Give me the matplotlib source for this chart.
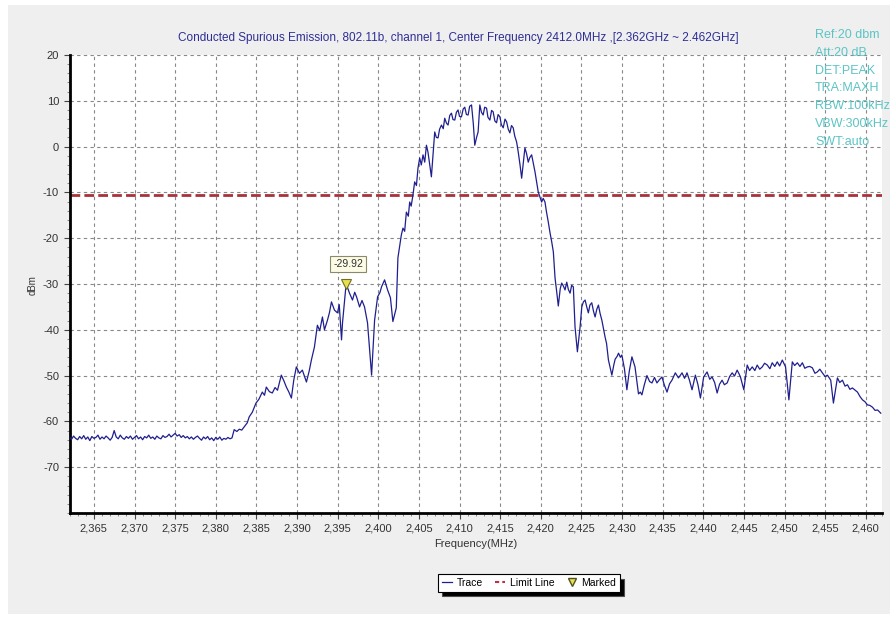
#Conducted spurious emission plot (802.11b, channel 1)
import numpy as np
import matplotlib
matplotlib.use("Agg")
import matplotlib.pyplot as plt
from matplotlib.lines import Line2D
from matplotlib.patches import Rectangle

plt.rcParams['font.family'] = ['Liberation Sans', 'DejaVu Sans']
plt.rcParams['axes.unicode_minus'] = False

# noise floor, 2362.00 .. 2382.00 MHz every 0.25 MHz
floor_freq = np.arange(2362.0, 2382.01, 0.25)
floor_level = [
    -63.5, -63.9, -63.2, -63.7, -64.0, -63.3, -63.8, -63.1, -63.9, -63.4,
    -64.2, -63.3, -63.7, -63.5, -63.0, -63.9, -63.4, -63.8, -63.2, -63.6,
    -64.1, -63.5, -62.0, -63.4, -63.8, -63.0, -63.6, -63.9, -63.3, -63.7,
    -63.2, -63.9, -63.5, -63.1, -63.8, -63.4, -64.0, -63.3, -63.6, -63.0,
    -63.7, -63.4, -63.9, -63.2, -63.6, -63.8, -63.1, -63.5, -63.3, -62.8,
    -63.4, -63.0, -62.6, -63.2, -62.9, -63.5, -63.1, -63.6, -63.3, -63.8,
    -63.4, -63.9, -63.5, -63.2, -63.7, -64.1, -63.4, -63.8, -63.3, -64.0,
    -63.6, -64.2, -63.5, -63.9, -63.4, -64.1, -63.7, -63.9, -63.5, -63.8,
    -63.6,
]

# rest of the sweep (MHz, dBm)
trace_freq = [
    2382.27, 2382.6, 2382.9, 2383.2, 2383.5, 2383.88, 2384.12, 2384.5, 2384.95, 2385.3,
    2385.73, 2386.0, 2386.22, 2386.6, 2386.96, 2387.3, 2387.6, 2388.07, 2388.4, 2388.69,
    2389.0, 2389.31, 2389.6, 2389.92, 2390.3, 2390.66, 2391.16, 2391.5, 2391.77, 2392.14,
    2392.51, 2392.8, 2393.13, 2393.38, 2393.75, 2394.0, 2394.24, 2394.61, 2394.98, 2395.2,
    2395.48, 2395.6, 2396.05, 2396.46, 2396.83, 2397.1, 2397.33, 2397.7, 2398.0, 2398.31,
    2398.68, 2399.18, 2399.55, 2399.92, 2400.2, 2400.41, 2400.78, 2401.15, 2401.5, 2401.8,
    2402.22, 2402.42, 2402.84, 2403.04, 2403.25, 2403.46, 2403.7, 2403.87, 2404.05, 2404.27,
    2404.48, 2404.7, 2404.89, 2405.1, 2405.3, 2405.51, 2405.72, 2405.93, 2406.12, 2406.54,
    2406.95, 2407.15, 2407.36, 2407.55, 2407.78, 2408.0, 2408.18, 2408.4, 2408.59, 2408.8,
    2409.01, 2409.2, 2409.42, 2409.62, 2409.82, 2410.0, 2410.24, 2410.45, 2410.65, 2410.85,
    2411.06, 2411.25, 2411.48, 2411.7, 2411.88, 2412.1, 2412.29, 2412.5, 2412.7, 2412.91,
    2413.1, 2413.33, 2413.5, 2413.74, 2413.95, 2414.14, 2414.35, 2414.56, 2414.75, 2414.97,
    2415.15, 2415.38, 2415.6, 2415.8, 2416.0, 2416.2, 2416.4, 2416.61, 2416.8, 2417.03,
    2417.23, 2417.45, 2417.65, 2417.85, 2418.05, 2418.25, 2418.46, 2418.65, 2418.88, 2419.1,
    2419.29, 2419.5, 2419.69, 2419.9, 2420.11, 2420.3, 2420.52, 2420.7, 2420.93, 2421.15,
    2421.35, 2421.55, 2421.76, 2421.95, 2422.16, 2422.4, 2422.58, 2422.8, 2422.99, 2423.2,
    2423.4, 2423.61, 2423.8, 2424.01, 2424.22, 2424.51, 2424.84, 2425.05, 2425.25, 2425.46,
    2425.66, 2425.86, 2426.05, 2426.28, 2426.5, 2426.69, 2426.9, 2427.1, 2427.3, 2427.52,
    2427.92, 2428.1, 2428.33, 2428.75, 2429.0, 2429.16, 2429.4, 2429.57, 2429.8, 2429.98,
    2430.3, 2430.6, 2430.9, 2431.22, 2431.6, 2432.03, 2432.25, 2432.45, 2432.75, 2433.07,
    2433.4, 2433.69, 2434.0, 2434.3, 2434.6, 2434.92, 2435.2, 2435.54, 2435.85, 2436.15,
    2436.56, 2436.95, 2437.39, 2437.7, 2438.0, 2438.3, 2438.62, 2439.03, 2439.35, 2439.65,
    2440.05, 2440.47, 2440.8, 2441.09, 2441.4, 2441.71, 2442.0, 2442.32, 2442.6, 2442.94,
    2443.25, 2443.56, 2443.85, 2444.17, 2444.4, 2444.58, 2444.99, 2445.41, 2445.7, 2446.03,
    2446.35, 2446.64, 2446.95, 2447.26, 2447.55, 2447.88, 2448.2, 2448.49, 2448.8, 2449.11,
    2449.4, 2449.73, 2450.13, 2450.54, 2450.96, 2451.25, 2451.58, 2451.9, 2452.2, 2452.5,
    2452.81, 2453.1, 2453.43, 2453.75, 2454.04, 2454.35, 2454.66, 2455.0, 2455.28, 2455.69,
    2456.02, 2456.51, 2456.8, 2457.13, 2457.45, 2457.75, 2458.05, 2458.36, 2458.7, 2458.98,
    2459.3, 2459.6, 2459.9, 2460.21, 2460.5, 2460.83, 2461.15, 2461.45, 2461.85,
]
trace_level = [
    -61.8, -62.2, -61.7, -61.9, -61.2, -60.3, -59.0, -58.0, -56.0, -55.2,
    -53.6, -54.3, -52.5, -53.5, -53.8, -52.6, -53.2, -49.9, -51.2, -52.5,
    -53.6, -54.9, -51.0, -48.1, -49.5, -48.8, -51.4, -49.0, -46.6, -43.8,
    -39.0, -40.2, -37.2, -40.0, -37.9, -36.2, -33.9, -35.7, -36.3, -34.5,
    -42.2, -38.5, -29.92, -32.0, -33.5, -31.8, -32.8, -35.0, -33.6, -35.0,
    -38.5, -49.9, -37.9, -32.8, -31.9, -30.6, -29.1, -31.3, -33.0, -38.2,
    -35.2, -24.3, -19.3, -17.8, -18.5, -14.3, -15.2, -12.1, -13.0, -10.6,
    -7.7, -8.5, -4.7, -2.5, -4.0, -1.8, -3.4, 0.3, -1.2, -6.6,
    3.2, 2.0, 1.9, 3.8, 4.7, 3.9, 6.2, 5.1, 4.7, 6.8,
    7.3, 5.9, 5.8, 7.5, 8.0, 6.6, 6.5, 8.2, 8.6, 7.0,
    6.9, 8.8, 9.1, 5.0, 0.3, 2.0, 3.2, 9.1, 7.5, 6.9,
    8.6, 8.4, 6.4, 5.8, 7.9, 7.6, 5.6, 5.2, 7.0, 6.5,
    4.8, 4.1, 6.0, 5.4, 3.8, 3.0, 4.6, 4.1, 2.3, 1.0,
    -1.2, -4.0, -6.9, -3.5, -0.3, -1.5, -3.4, -2.4, -1.8, -3.8,
    -5.5, -7.8, -9.9, -11.0, -12.1, -11.3, -12.1, -14.2, -16.5, -18.9,
    -20.8, -23.0, -28.7, -31.5, -34.8, -31.0, -29.8, -30.5, -31.3, -29.6,
    -31.2, -32.0, -30.3, -30.6, -39.4, -44.8, -39.4, -35.0, -33.9, -33.5,
    -35.0, -36.3, -34.6, -34.1, -36.0, -37.2, -35.5, -34.6, -36.4, -37.9,
    -41.6, -43.0, -46.6, -49.9, -47.6, -46.4, -45.8, -45.1, -46.0, -45.5,
    -48.5, -53.1, -49.0, -45.9, -48.1, -54.0, -53.6, -54.2, -52.0, -50.0,
    -51.3, -51.6, -50.4, -51.6, -50.9, -50.3, -52.0, -53.6, -51.8, -51.0,
    -49.4, -50.5, -49.4, -50.6, -49.4, -51.0, -53.1, -49.9, -52.0, -54.9,
    -50.3, -49.2, -50.8, -50.3, -51.5, -53.8, -51.9, -51.0, -52.0, -51.6,
    -50.2, -49.4, -50.1, -48.8, -49.6, -50.3, -53.1, -47.7, -48.9, -48.1,
    -48.9, -47.7, -48.6, -48.1, -47.3, -47.7, -48.5, -47.2, -48.0, -47.0,
    -47.9, -46.6, -48.1, -55.3, -47.0, -47.8, -47.2, -48.0, -47.2, -48.4,
    -48.1, -48.0, -48.3, -49.5, -49.2, -48.6, -49.4, -50.2, -49.9, -51.0,
    -56.0, -50.5, -51.5, -51.0, -52.3, -52.0, -53.0, -52.7, -53.2, -53.6,
    -54.6, -55.3, -55.7, -56.4, -56.5, -56.9, -57.6, -57.5, -58.2,
]

limit_dbm = -10.6
marker_freq = 2396.05
marker_dbm = -29.92
x_ticks = list(range(2365, 2461, 5))
y_ticks = list(range(-70, 21, 10))
settings = ["Ref:20 dbm", "Att:20 dB", "DET:PEAK", "TRA:MAXH",
            "RBW:100kHz", "VBW:300kHz", "SWT:auto"]

W, H = 896, 617
fig = plt.figure(figsize=(W / 100, H / 100), dpi=100)
fig.patch.set_facecolor('white')
# gray panel behind everything
fig.patches.append(Rectangle((8 / W, 1 - 614 / H), 882 / W, 609 / H,
                             transform=fig.transFigure, fc='#efefef', ec='none', zorder=-10))

ax = fig.add_axes([69.5 / W, 1 - 513 / H, 812.5 / W, 458 / H])
ax.set_facecolor('white')

freq = np.concatenate([floor_freq, trace_freq])
level = np.concatenate([floor_level, trace_level])
trace_line, = ax.plot(freq, level, color='#1f1f8f', lw=0.9, zorder=3)
limit_line = ax.axhline(limit_dbm, color='#a8323a', lw=2, ls=(0, (3.5, 1.5)), zorder=2)
mark, = ax.plot([marker_freq], [marker_dbm], marker='v', ms=7, mfc='#e8e050',
                mec='#707020', mew=0.8, ls='none', zorder=4)
ax.annotate('%.2f' % marker_dbm, (marker_freq, marker_dbm), xytext=(2, 20),
            textcoords='offset pixels', ha='center', va='center', fontsize=7.5,
            color='#333333',
            bbox=dict(boxstyle='square,pad=0.3', fc='#fbfbe6', ec='#8a8a6a', lw=0.8))

ax.set_xlim(2362, 2462)
ax.set_ylim(-80, 20)
ax.set_xticks(x_ticks)
ax.set_xticklabels([('%.3f' % (v / 1000)).replace('.', ',') for v in x_ticks])
ax.set_xticks(np.arange(2362, 2463, 1), minor=True)
ax.set_yticks(y_ticks)
ax.set_yticks(np.arange(-80, 21, 2), minor=True)
ax.tick_params(axis='both', which='major', labelsize=8, labelcolor='#333333',
               length=4, color='#444444')
ax.tick_params(axis='both', which='minor', length=2, color='#777777')
ax.grid(True, which='major', color='#888888', ls=(0, (3, 3)), lw=0.8)
for s in ['top', 'right']:
    ax.spines[s].set_visible(False)
for s in ['left', 'bottom']:
    ax.spines[s].set_linewidth(2)
    ax.spines[s].set_color('black')

ax.set_xlabel('Frequency(MHz)', fontsize=8, color='#333333', labelpad=4)
fig.text(33 / W, 1 - 285 / H, 'dBm', rotation=90, ha='center', va='center',
         fontsize=7, color='#333333')
fig.text(458 / W, 1 - 38 / H,
         'Conducted Spurious Emission, 802.11b, channel 1, Center Frequency 2412.0MHz ,[2.362GHz ~ 2.462GHz]',
         ha='center', va='center', fontsize=8.5, color='#2e2e96')

for i, s in enumerate(settings):
    fig.text(815 / W, 1 - (35 + 17.8 * i) / H, s, ha='left', va='center',
             fontsize=9, color='#5cc4c4')

h_trace = Line2D([], [], color='#1f1f8f', lw=0.9)
h_limit = Line2D([], [], color='#c03040', lw=1.5, ls=(0, (2, 1.5)))
h_mark = Line2D([], [], marker='v', ms=6, mfc='#e8e050', mec='#505020', ls='none')
leg = fig.legend([h_trace, h_limit, h_mark], ['Trace', 'Limit Line', 'Marked'],
                 loc='center', bbox_to_anchor=(529 / W, 1 - 583 / H), ncol=3,
                 fontsize=7.5, handlelength=1.0, handletextpad=0.4, columnspacing=1.2,
                 borderpad=0.35, fancybox=False, framealpha=1, edgecolor='black',
                 shadow={'fc': 'black', 'alpha': 1, 'ox': 3, 'oy': -3})
leg.get_frame().set_linewidth(0.8)

fig.savefig('out.png', dpi=100, facecolor=fig.get_facecolor())
